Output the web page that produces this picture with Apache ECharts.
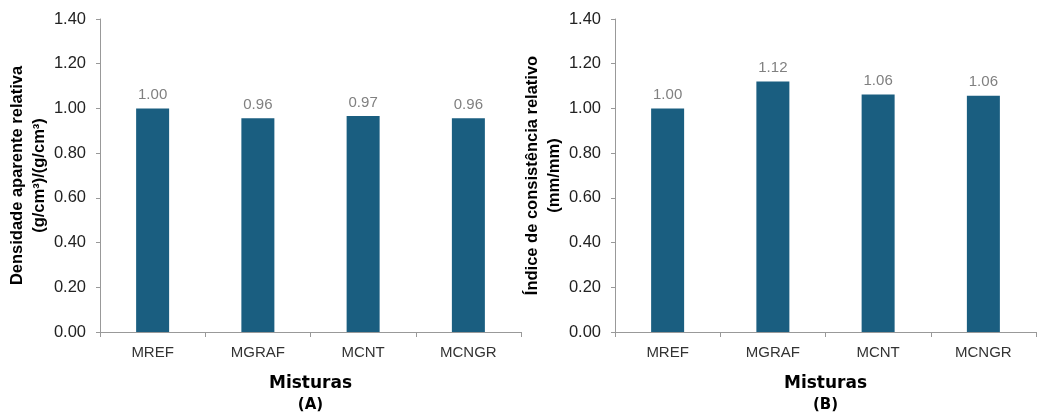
<!DOCTYPE html>
<html>
<head>
<meta charset="utf-8">
<script src="https://cdn.jsdelivr.net/npm/echarts@6/dist/echarts.min.js"></script>
<style>html,body{margin:0;padding:0;background:#fff}#c{width:1037px;height:415px}</style>
</head>
<body>
<div id="c"></div>
<script>
const categories = ['MREF', 'MGRAF', 'MCNT', 'MCNGR'];
const densidadeValues = [1.00, 0.956, 0.966, 0.956];
const consistenciaValues = [1.00, 1.12, 1.062, 1.057];
const yTicks = { min: 0, max: 1.4, interval: 0.2 };
const yNameA = 'Densidade aparente relativa\n(g/cm³)/(g/cm³)';
const yNameB = 'Índice de consistência relativo\n(mm/mm)';
const xNameA = ['Misturas', '(A)'];
const xNameB = ['Misturas', '(B)'];

const barColor = '#1a5e80';
const axisColor = '#999999';
const font = '"Liberation Sans", Arial, sans-serif';

function yAxis(idx, name) {
  return {
    type: 'value', gridIndex: idx,
    min: yTicks.min, max: yTicks.max, interval: yTicks.interval,
    name: name, nameLocation: 'middle', nameGap: 47, nameRotate: 90,
    nameTextStyle: { fontFamily: font, fontWeight: 'bold', fontSize: 16.5, color: '#000', lineHeight: 22 },
    axisLine: { show: true, lineStyle: { color: axisColor, width: 1 } },
    axisTick: { show: true, length: 4, lineStyle: { color: axisColor } },
    splitLine: { show: false },
    axisLabel: { fontFamily: font, fontSize: 16.5, color: '#222', margin: 14,
      formatter: v => v.toFixed(2) }
  };
}
function xAxis(idx, parts) {
  return {
    type: 'category', gridIndex: idx, data: categories,
    name: '{a|' + parts[0] + '}\n{b|' + parts[1] + '}',
    nameLocation: 'middle', nameGap: 40,
    nameTextStyle: { rich: {
      a: { fontFamily: 'DejaVu Sans, sans-serif', fontWeight: 'bold', fontSize: 17, color: '#000', lineHeight: 23 },
      b: { fontFamily: 'DejaVu Sans, sans-serif', fontWeight: 'bold', fontSize: 15, color: '#000', lineHeight: 21 }
    } },
    axisLine: { show: true, lineStyle: { color: axisColor, width: 1 } },
    axisTick: { show: true, length: 5, alignWithLabel: false, lineStyle: { color: axisColor } },
    axisLabel: { fontFamily: font, fontSize: 15, color: '#333', margin: 13 }
  };
}
function series(idx, values) {
  return {
    type: 'bar', xAxisIndex: idx, yAxisIndex: idx, data: values,
    barWidth: 33,
    itemStyle: { color: barColor },
    label: { show: true, position: 'top', distance: 6, fontFamily: font, fontSize: 15, color: '#808080',
      formatter: p => p.value.toFixed(2) }
  };
}

const chart = echarts.init(document.getElementById('c'), null, { renderer: 'canvas' });
chart.setOption({
  animation: false,
  backgroundColor: '#fff',
  grid: [
    { left: 100, top: 19, width: 421, height: 313, containLabel: false, outerBoundsMode: 'none' },
    { left: 615, top: 19, width: 421, height: 313, containLabel: false, outerBoundsMode: 'none' }
  ],
  xAxis: [xAxis(0, xNameA), xAxis(1, xNameB)],
  yAxis: [yAxis(0, yNameA), yAxis(1, yNameB)],
  series: [series(0, densidadeValues), series(1, consistenciaValues)]
});
</script>
</body>
</html>
